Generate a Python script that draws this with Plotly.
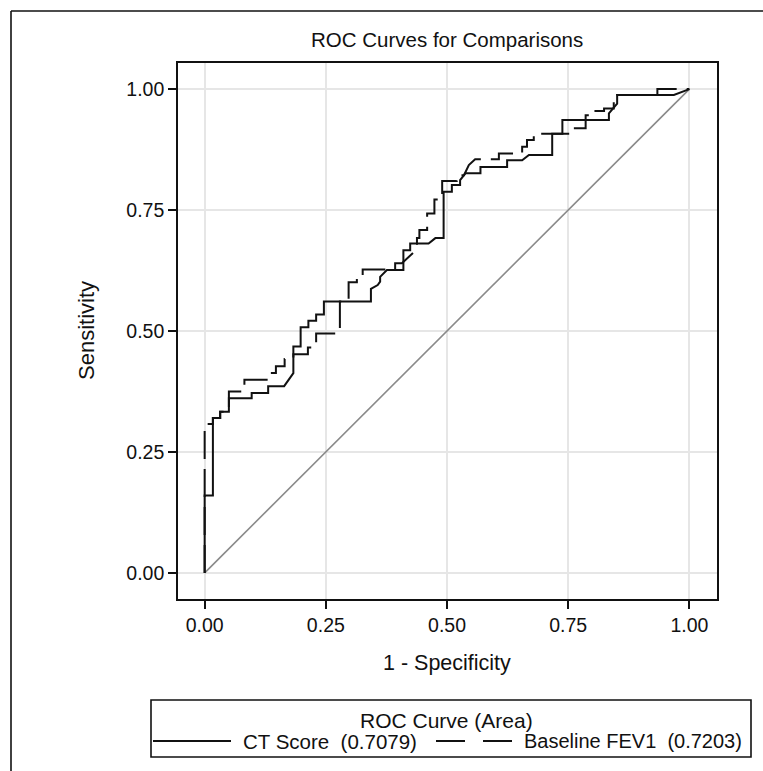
import plotly.graph_objects as go

# ---- data ----
ct_fpr = [0, 0, .017, .017, .032, .032, .05, .05, .097, .097,
          .131, .131, .164, .183, .183, .198, .198, .214, .214, .230,
          .230, .246, .246, .343, .343, .357, .362, .362, .376, .41,
          .41, .424, .424, .462, .476, .493, .493, .51, .51, .527,
          .527, .538, .569, .569, .624, .624, .655, .669, .717, .717,
          .738, .738, .834, .834, .851, .851, .968, 1]
ct_sens = [0, .16, .16, .32, .32, .333, .333, .361, .361, .372,
           .372, .386, .386, .413, .468, .468, .508, .508, .521, .521,
           .534, .534, .561, .561, .587, .595, .602, .612, .626, .626,
           .667, .667, .681, .681, .692, .692, .788, .788, .802, .802,
           .812, .826, .826, .839, .839, .853, .853, .864, .864, .908,
           .908, .936, .936, .95, .97, .988, .988, 1]

fev_fpr = [0, 0, .017, .017, .032, .032, .05, .05, .082, .082,
           .133, .133, .147, .147, .165, .165, .183, .183, .213, .213,
           .230, .230, .279, .279, .297, .297, .314, .314, .326, .326,
           .393, .393, .407, .438, .438, .443, .443, .459, .459, .474,
           .474, .49, .49, .52, .52, .535, .545, .558, .607, .607,
           .655, .655, .665, .665, .679, .679, .755, .755, .786, .786,
           .803, .803, .824, .824, .844, .844, .851, .851, .934, .934, 1]
fev_sens = [0, .308, .308, .32, .32, .333, .333, .375, .375, .399,
            .399, .413, .413, .427, .427, .442, .442, .452, .452, .466,
            .466, .495, .495, .561, .561, .601, .601, .612, .612, .627,
            .627, .640, .640, .669, .692, .692, .709, .709, .743, .743,
            .772, .772, .81, .81, .822, .822, .843, .855, .855, .867,
            .867, .881, .881, .895, .895, .908, .908, .919, .919, .946,
            .946, .955, .955, .960, .960, .974, .974, .988, .988, 1, 1]

ref_line = [0, 1]
tick_vals = [0, 0.25, 0.5, 0.75, 1.0]
tick_text = ["0.00", "0.25", "0.50", "0.75", "1.00"]

series_names = ["CT Score", "Baseline FEV1"]
series_area = ["0.7079", "0.7203"]

# ---- layout geometry ----
FW, FH = 763, 771
ML, MR, MT, MB = 178, 46, 63, 172
PW = FW - ML - MR
PH = FH - MT - MB


def px(x):
    return (x - ML) / PW


def py(y):
    return (FH - MB - y) / PH


FONT = "Liberation Sans, Arial, sans-serif"
INK = "#111111"

fig = go.Figure()
fig.add_trace(go.Scatter(x=ref_line, y=ref_line, mode="lines",
                         line=dict(color="#8a8a8a", width=1.6),
                         showlegend=False, hoverinfo="skip"))
fig.add_trace(go.Scatter(x=fev_fpr, y=fev_sens, mode="lines",
                         line=dict(color=INK, width=2, dash="28px,10px"),
                         name=series_names[1], showlegend=False))
fig.add_trace(go.Scatter(x=ct_fpr, y=ct_sens, mode="lines",
                         line=dict(color=INK, width=2),
                         name=series_names[0], showlegend=False))

axis_common = dict(
    tickvals=tick_vals, ticktext=tick_text,
    ticks="outside", ticklen=8, tickwidth=1.6, tickcolor=INK,
    showline=True, mirror=True, linecolor=INK, linewidth=1.6,
    showgrid=True, gridcolor="#e6e6e6", gridwidth=1.5,
    zeroline=False,
    tickfont=dict(family=FONT, size=19.5, color=INK),
)
fig.update_xaxes(range=[-0.055, 1.057], **axis_common)
fig.update_yaxes(range=[-0.054, 1.054], **axis_common)

shapes = []
# outer frame (cropped on right and bottom)
shapes.append(dict(type="line", xref="paper", yref="paper",
                   x0=px(11), y0=py(800), x1=px(11), y1=py(11),
                   line=dict(color=INK, width=1.6)))
shapes.append(dict(type="line", xref="paper", yref="paper",
                   x0=px(11), y0=py(11), x1=px(800), y1=py(11),
                   line=dict(color=INK, width=1.6)))
# legend box
shapes.append(dict(type="rect", xref="paper", yref="paper",
                   x0=px(151), y0=py(757), x1=px(751), y1=py(700),
                   line=dict(color=INK, width=1.6)))
# legend samples
shapes.append(dict(type="line", xref="paper", yref="paper",
                   x0=px(153), y0=py(741), x1=px(231), y1=py(741),
                   line=dict(color=INK, width=2)))
shapes.append(dict(type="line", xref="paper", yref="paper",
                   x0=px(436), y0=py(741), x1=px(512), y1=py(741),
                   line=dict(color=INK, width=2, dash="29px,18px")))

NB = "\u00a0"
annotations = [
    dict(text="ROC Curves for Comparisons", xref="paper", yref="paper",
         x=px(447), y=py(40), showarrow=False, xanchor="center", yanchor="middle",
         font=dict(family=FONT, size=20.5, color=INK)),
    dict(text="Sensitivity", xref="paper", yref="paper", textangle=-90,
         x=px(86), y=py(331), showarrow=False, xanchor="center", yanchor="middle",
         font=dict(family=FONT, size=22, color=INK)),
    dict(text="1 - Specificity", xref="paper", yref="paper",
         x=px(447), y=py(663), showarrow=False, xanchor="center", yanchor="middle",
         font=dict(family=FONT, size=21.5, color=INK)),
    dict(text="ROC Curve (Area)", xref="paper", yref="paper",
         x=px(446), y=py(720), showarrow=False, xanchor="center", yanchor="middle",
         font=dict(family=FONT, size=21, color=INK)),
    dict(text=f"{series_names[0]}{NB}{NB}({series_area[0]})", xref="paper", yref="paper",
         x=px(241), y=py(741), showarrow=False, xanchor="left", yanchor="middle",
         font=dict(family=FONT, size=20.5, color=INK)),
    dict(text=f"{series_names[1]}{NB}{NB}({series_area[1]})", xref="paper", yref="paper",
         x=px(522), y=py(741), showarrow=False, xanchor="left", yanchor="middle",
         font=dict(family=FONT, size=20, color=INK)),
]

fig.update_layout(
    width=FW, height=FH,
    margin=dict(l=ML, r=MR, t=MT, b=MB),
    paper_bgcolor="white", plot_bgcolor="white",
    shapes=shapes, annotations=annotations,
    showlegend=False,
    font=dict(family=FONT, color=INK),
)

fig.write_html("out.html")
